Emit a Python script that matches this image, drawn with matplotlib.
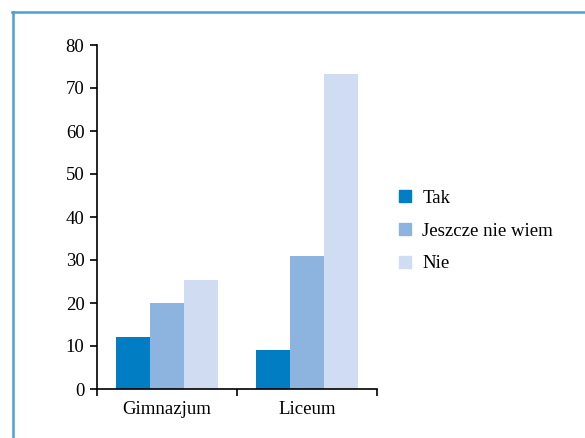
import numpy as np
import matplotlib.pyplot as plt
from matplotlib.patches import Patch
from matplotlib.lines import Line2D

plt.rcParams['font.family'] = ['Liberation Serif', 'DejaVu Serif']

kategorie = ['Gimnazjum', 'Liceum']
serie = ['Tak', 'Jeszcze nie wiem', 'Nie']
wartosci = [[12, 9], [20, 31], [25.3, 73.3]]
kolory = ['#007dc3', '#8db3df', '#cfdcf1']

fig = plt.figure(figsize=(5.85, 4.38), dpi=100)
ax = fig.add_axes([97/585, 1-389/438, 280/585, 344/438])

x = np.arange(len(kategorie))
w = 0.245
for i in range(len(serie)):
    ax.bar(x + (i-1)*w, wartosci[i], w, color=kolory[i], label=serie[i])

fs = 13.5
ax.set_xlim(-0.5, 1.5)
ax.set_ylim(0, 80)
ax.set_yticks(range(0, 81, 10))
ax.set_xticks([-0.5, 0.5, 1.5])
ax.set_xticklabels([])
ax.set_xticks(x, minor=True)
ax.set_xticklabels(kategorie, minor=True)
ax.tick_params(axis='x', which='minor', length=0, pad=9, labelsize=fs)
ax.tick_params(axis='x', which='major', length=5, width=1.2, direction='out')
ax.tick_params(axis='y', length=5, width=1.2, labelsize=fs, pad=4)
for s in ['top', 'right']:
    ax.spines[s].set_visible(False)
for s in ['left', 'bottom']:
    ax.spines[s].set_linewidth(1.2)

uchwyty = [Patch(color=kolory[i], label=serie[i]) for i in range(len(serie))]
fig.legend(handles=uchwyty, loc='center left', bbox_to_anchor=(382/585, 1-231/438),
           frameon=False, fontsize=fs, handlelength=0.65, handleheight=0.65,
           handletextpad=0.6, labelspacing=0.85)

# ramka
fig.add_artist(Line2D([12/585, 1], [1-12/438, 1-12/438], color='#4a9fd5', lw=1.8))
fig.add_artist(Line2D([13/585, 13/585], [0, 1-12/438], color='#4a9fd5', lw=1.8))

fig.savefig('out.png', dpi=100)
